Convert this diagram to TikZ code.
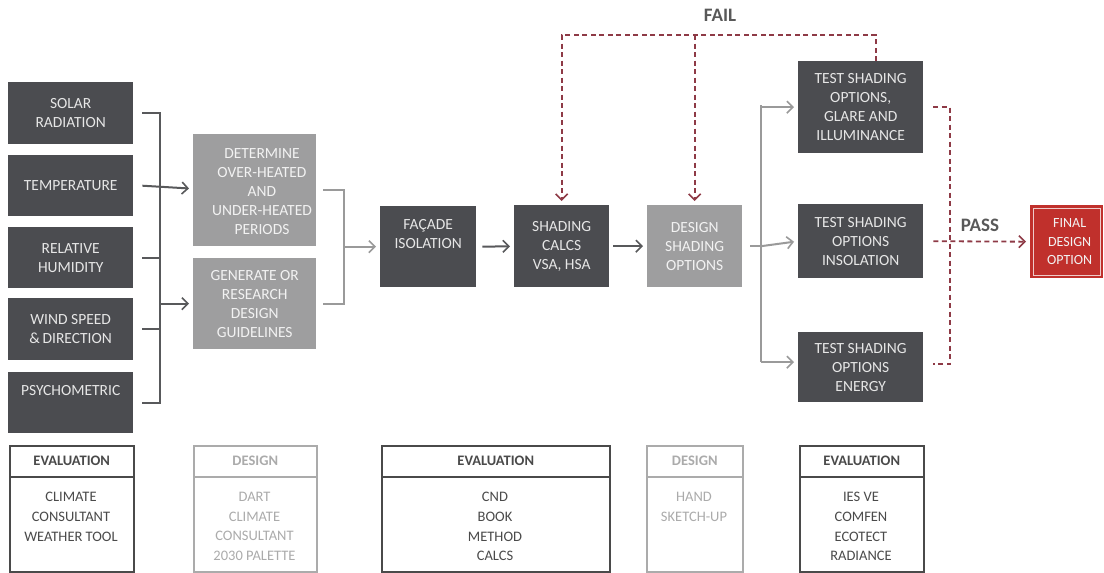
\documentclass[tikz,border=0pt]{standalone}
\usepackage{fontspec}
\setmainfont{Carlito}
\usetikzlibrary{arrows.meta}
\definecolor{dk}{HTML}{4B4C50}
\definecolor{lt}{HTML}{9E9E9F}
\definecolor{dtxt}{HTML}{E6E6E6}
\definecolor{ltxt}{HTML}{F2F2F2}
\definecolor{brk}{HTML}{58595B}
\definecolor{larr}{HTML}{9A9A9A}
\definecolor{rdash}{HTML}{8E3A46}
\definecolor{finred}{HTML}{C0302C}
\definecolor{labgray}{HTML}{595959}
\definecolor{legdk}{HTML}{4A4A4A}
\definecolor{leglt}{HTML}{ABABAB}
\begin{document}
\begin{tikzpicture}[x=1pt,y=-1pt,
  boxtxt/.style={align=center,inner sep=0pt,font=\fontsize{15.5}{19}\selectfont},
  darkbox/.style={boxtxt,fill=dk,text=dtxt,anchor=north west},
  lightbox/.style={boxtxt,fill=lt,text=ltxt,anchor=north west},
  darkline/.style={draw=brk,line width=2pt},
  lightline/.style={draw=larr,line width=2pt},
  arr/.style={-{Straight Barb[length=6pt,width=12pt,line width=1.6pt]},shorten >=4pt},
  reddash/.style={draw=rdash,line width=1.8pt,dash pattern=on 5pt off 3.5pt},
  leghead/.style={anchor=north west,draw,line width=1.5pt,inner sep=0pt,font=\bfseries\fontsize{14.5}{19}\selectfont},
  legbody/.style={anchor=north west,draw,line width=1.5pt,inner sep=0pt},
  legtxt/.style={anchor=north,align=center,inner sep=0pt,font=\fontsize{14.5}{19.7}\selectfont},
  biglab/.style={font=\bfseries\fontsize{19}{22}\selectfont,text=labgray,inner sep=0pt}]
\useasboundingbox[fill=white] (0,0) rectangle (1104,573);

% left column
\node[darkbox,minimum width=125,minimum height=62] (solar) at (8,82) {SOLAR\\RADIATION};
\node[darkbox,minimum width=125,minimum height=61] (temp) at (8,155) {TEMPERATURE};
\node[darkbox,minimum width=125,minimum height=61] (rel) at (8,227) {RELATIVE\\HUMIDITY};
\node[darkbox,minimum width=125,minimum height=62] (wind) at (8,298) {WIND SPEED\\\&\,DIRECTION};
\node[darkbox,minimum width=125,minimum height=61] (psych) at (8,372) {PSYCHOMETRIC\\\strut};

% second column
\node[lightbox,minimum width=123,minimum height=112] (det) at (193,134) {};
\node[boxtxt,text=ltxt] (dettxt) at (262,192) {DETERMINE\\OVER-HEATED\\AND\\UNDER-HEATED\\PERIODS};
\node[lightbox,minimum width=123,minimum height=91] (gen) at (193,258) {GENERATE OR\\RESEARCH\\DESIGN\\GUIDELINES};

% middle row
\node[darkbox,minimum width=96,minimum height=81] (fac) at (380,206) {FAÇADE\\ISOLATION\\\strut};
\node[darkbox,minimum width=95,minimum height=82] (calc) at (514,205) {SHADING\\CALCS\\VSA, HSA};
\node[lightbox,minimum width=95,minimum height=82] (des) at (647,205) {DESIGN\\SHADING\\OPTIONS};

% tests
\node[darkbox,minimum width=125,minimum height=92] (t1) at (798,61) {TEST SHADING\\OPTIONS,\\GLARE AND\\ILLUMINANCE};
\node[darkbox,minimum width=125,minimum height=74] (t2) at (798,204) {TEST SHADING\\OPTIONS\\INSOLATION};
\node[darkbox,minimum width=125,minimum height=70] (t3) at (798,332) {TEST SHADING\\OPTIONS\\ENERGY};

% final
\node[anchor=north west,fill=finred,minimum width=73,minimum height=73,inner sep=0pt,align=center,text=ltxt,font=\fontsize{14}{18.5}\selectfont] (fin) at (1030,205) {\hspace*{6pt}FINAL\\\hspace*{6pt}DESIGN\\\hspace*{6pt}OPTION};
\draw[draw=white!75!finred,line width=1pt] ([shift={(3,3)}]fin.north west) rectangle ([shift={(-3,-3)}]fin.south east);

% left bracket
\coordinate (bx) at (160,0);
\draw[darkline] ([xshift=9]solar.east) -- (solar.east -| bx) -- (psych.east -| bx) -- ([xshift=9]psych.east);
\draw[darkline] ([xshift=9]rel.east) -- (rel.east -| bx);
\draw[darkline] ([xshift=9]wind.east) -- (wind.east -| bx);
\draw[darkline,arr] ([xshift=9]temp.east) -- ([yshift=-3]det.west |- temp.east);
\draw[darkline,arr] (bx |- gen.west) -- (gen.west);

% second bracket
\coordinate (b2) at (344,0);
\draw[lightline] ([xshift=7]det.east) -- (det.east -| b2) -- (gen.east -| b2) -- ([xshift=7]gen.east);
\draw[lightline,arr] (b2 |- fac.west) -- (fac.west);

% middle arrows
\draw[darkline,arr] ([xshift=6]fac.east) -- (calc.west);
\draw[darkline,arr] ([xshift=4]calc.east) -- (des.west);

% third bracket
\coordinate (b3) at (761,0);
\draw[lightline] ([xshift=8]des.east) -- (des.east -| b3);
\draw[lightline,arr] (b3 |- t1.west) -- (t1.west);
\draw[lightline] ([yshift=2]b3 |- t1.west) -- ([yshift=5]b3 |- t3.west);
\draw[lightline,arr] ([yshift=5]b3 |- t3.west) -- ([yshift=5]t3.west);
\draw[lightline,arr] (des.east -| b3) -- (t2.west);

% pass / fail
\coordinate (b4) at (950,0);
\draw[reddash] ([xshift=10]t1.east) -- (t1.east -| b4) -- ([yshift=3]t3.east -| b4) -- ([xshift=10,yshift=3]t3.east);
\draw[reddash,arr] ([xshift=10]t2.east) -- (fin.west);
\node[biglab] (pass) at (980,225) {PASS};

\coordinate (fy) at (0,35);
\draw[reddash,arr] ([xshift=15]t1.north) |- (calc.north |- fy) -- (calc.north);
\draw[reddash,arr] (des.north |- fy) -- (des.north);
\node[biglab] (fail) at (720,15) {FAIL};

% legend
\node[leghead,draw=legdk,text=legdk,minimum width=124,minimum height=31] (h1) at (9,445) {EVALUATION};
\node[legbody,draw=legdk,minimum width=124,minimum height=95] (g1) at (9,476) {};
\node[legtxt,text=legdk] (x1) at (71,492) {CLIMATE\\CONSULTANT\\WEATHER TOOL};

\node[leghead,draw=leglt,text=leglt,minimum width=123,minimum height=31] (h2) at (193,445) {DESIGN};
\node[legbody,draw=leglt,minimum width=123,minimum height=95] (g2) at (193,476) {};
\node[legtxt,text=leglt] (x2) at (254.5,492) {DART\\CLIMATE\\CONSULTANT\\2030 PALETTE};

\node[leghead,draw=legdk,text=legdk,minimum width=228,minimum height=31] (h3) at (381,445) {EVALUATION};
\node[legbody,draw=legdk,minimum width=228,minimum height=95] (g3) at (381,476) {};
\node[legtxt,text=legdk] (x3) at (495,492) {CND\\BOOK\\METHOD\\CALCS};

\node[leghead,draw=leglt,text=leglt,minimum width=96,minimum height=31] (h4) at (646,445) {DESIGN};
\node[legbody,draw=leglt,minimum width=96,minimum height=95] (g4) at (646,476) {};
\node[legtxt,text=leglt] (x4) at (694,492) {HAND\\SKETCH-UP};

\node[leghead,draw=legdk,text=legdk,minimum width=124,minimum height=31] (h5) at (799,445) {EVALUATION};
\node[legbody,draw=legdk,minimum width=124,minimum height=95] (g5) at (799,476) {};
\node[legtxt,text=legdk] (x5) at (861,492) {IES VE\\COMFEN\\ECOTECT\\RADIANCE};
\end{tikzpicture}
\end{document}
